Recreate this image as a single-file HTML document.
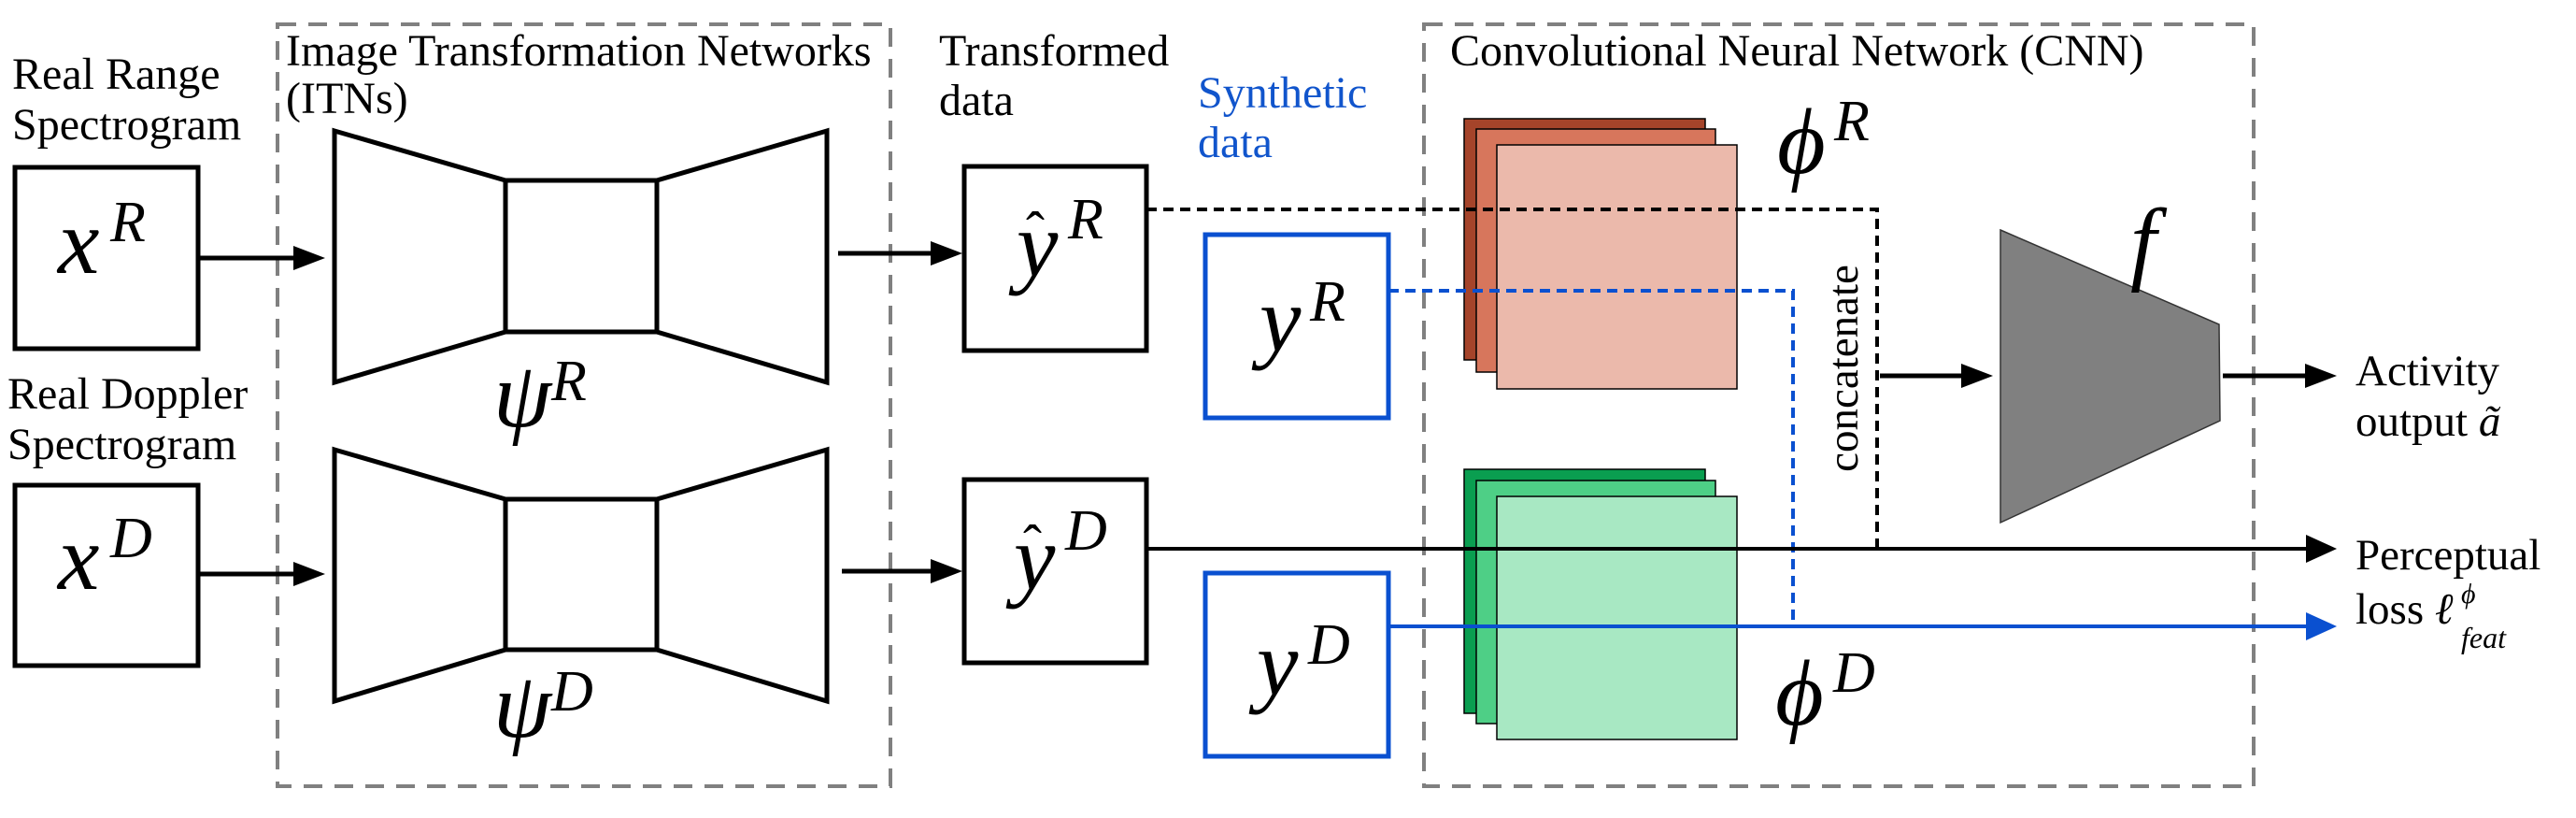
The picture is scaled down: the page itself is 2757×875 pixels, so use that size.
<!DOCTYPE html>
<html><head><meta charset="utf-8"><style>
html,body{margin:0;padding:0;background:#fff;}
svg{display:block;}
text{font-family:"Liberation Serif",serif;}
.m{font-style:italic;}
</style></head><body>
<svg width="2757" height="875" viewBox="0 0 2757 875" xmlns="http://www.w3.org/2000/svg">
<!-- dashed group boxes -->
<rect x="297" y="26" width="656" height="815" fill="none" stroke="#808080" stroke-width="4" stroke-dasharray="20,13"/>
<rect x="1524" y="26" width="888" height="815" fill="none" stroke="#808080" stroke-width="4" stroke-dasharray="20,13"/>

<!-- labels -->
<text x="13" y="95" font-size="48">Real Range</text>
<text x="13" y="149" font-size="48">Spectrogram</text>
<text x="8" y="437" font-size="48">Real Doppler</text>
<text x="8" y="491" font-size="48">Spectrogram</text>
<text x="306" y="70" font-size="48">Image Transformation Networks</text>
<text x="306" y="121" font-size="48">(ITNs)</text>
<text x="1005" y="70" font-size="48">Transformed</text>
<text x="1005" y="123" font-size="48">data</text>
<text x="1282" y="115" font-size="48" fill="#1155cc">Synthetic</text>
<text x="1282" y="168" font-size="48" fill="#1155cc">data</text>
<text x="1552" y="70" font-size="48">Convolutional Neural Network (CNN)</text>

<!-- input boxes -->
<rect x="16" y="179" width="196" height="194" fill="none" stroke="#000" stroke-width="5"/>
<rect x="16" y="519" width="196" height="193" fill="none" stroke="#000" stroke-width="5"/>
<text x="62" y="292" font-size="100" class="m">x</text><text x="118" y="258" font-size="62" class="m">R</text>
<text x="62" y="630" font-size="100" class="m">x</text><text x="118" y="596" font-size="62" class="m">D</text>

<!-- arrows into ITNs -->
<line x1="212" y1="276" x2="320" y2="276" stroke="#000" stroke-width="5"/>
<path d="M314,263 L348,276 L314,289z" fill="#000"/>
<line x1="212" y1="614" x2="320" y2="614" stroke="#000" stroke-width="5"/>
<path d="M314,601 L348,614 L314,627z" fill="#000"/>

<!-- bowties -->
<g fill="none" stroke="#000" stroke-width="5" stroke-linejoin="miter">
<polygon points="358,140 541,193 541,355 358,409"/>
<rect x="541" y="193" width="162" height="162"/>
<polygon points="885,140 703,193 703,355 885,409"/>
<polygon points="358,481 541,534 541,695 358,750"/>
<rect x="541" y="534" width="162" height="161"/>
<polygon points="885,481 703,534 703,695 885,750"/>
</g>
<text x="528" y="456" font-size="100" class="m">ψ</text><text x="590" y="428" font-size="62" class="m">R</text>
<text x="528" y="788" font-size="100" class="m">ψ</text><text x="590" y="760" font-size="62" class="m">D</text>

<!-- arrows out of ITNs -->
<line x1="897" y1="271" x2="1000" y2="271" stroke="#000" stroke-width="5"/>
<path d="M996,258 L1030,271 L996,284z" fill="#000"/>
<line x1="901" y1="611" x2="1000" y2="611" stroke="#000" stroke-width="5"/>
<path d="M996,598 L1030,611 L996,624z" fill="#000"/>

<!-- transformed boxes -->
<rect x="1032" y="178" width="195" height="197" fill="none" stroke="#000" stroke-width="5"/>
<rect x="1032" y="513" width="195" height="196" fill="none" stroke="#000" stroke-width="5"/>
<text x="1088" y="295" font-size="100" class="m">y</text><text x="1098" y="268" font-size="60">ˆ</text><text x="1143" y="255" font-size="62" class="m">R</text>
<text x="1085" y="630" font-size="100" class="m">y</text><text x="1095" y="603" font-size="60">ˆ</text><text x="1140" y="588" font-size="62" class="m">D</text>

<!-- synthetic boxes -->
<rect x="1290" y="251" width="196" height="196" fill="none" stroke="#0a50d0" stroke-width="5"/>
<rect x="1290" y="613" width="196" height="196" fill="none" stroke="#0a50d0" stroke-width="5"/>
<text x="1348" y="375" font-size="100" class="m">y</text><text x="1402" y="343" font-size="62" class="m">R</text>
<text x="1345" y="743" font-size="100" class="m">y</text><text x="1400" y="710" font-size="62" class="m">D</text>

<!-- feature stacks -->
<rect x="1567" y="127" width="258" height="258" fill="#a5442a" stroke="#000" stroke-width="1.5"/>
<rect x="1580" y="138" width="256" height="260" fill="#d7765c" stroke="#000" stroke-width="1.5"/>
<rect x="1602" y="155" width="257" height="261" fill="#ebb9ab" stroke="#000" stroke-width="1.5"/>
<rect x="1567" y="502" width="258" height="261" fill="#0a9e50" stroke="#000" stroke-width="1.5"/>
<rect x="1580" y="514" width="256" height="260" fill="#4ecf86" stroke="#000" stroke-width="1.5"/>
<rect x="1602" y="531" width="257" height="260" fill="#a8e8c3" stroke="#000" stroke-width="1.5"/>
<text x="1902" y="185" font-size="100" class="m">ϕ</text><text x="1963" y="150" font-size="62" class="m">R</text>
<text x="1900" y="775" font-size="100" class="m">ϕ</text><text x="1962" y="740" font-size="62" class="m">D</text>

<!-- connectors -->
<polyline points="1227,224 2009,224 2009,587" fill="none" stroke="#000" stroke-width="4" stroke-dasharray="11,7"/>
<polyline points="1486,311 1919,311 1919,670" fill="none" stroke="#0a50d0" stroke-width="4" stroke-dasharray="11,7"/>
<line x1="1227" y1="587" x2="2475" y2="587" stroke="#000" stroke-width="4"/>
<path d="M2468,572 L2501,587 L2468,602z" fill="#000"/>
<line x1="1486" y1="670" x2="2475" y2="670" stroke="#0a50d0" stroke-width="4"/>
<path d="M2468,655 L2501,670 L2468,685z" fill="#0a50d0"/>
<text transform="translate(1988,394) rotate(-90)" font-size="47" text-anchor="middle">concatenate</text>
<line x1="2012" y1="402" x2="2105" y2="402" stroke="#000" stroke-width="5"/>
<path d="M2099,389 L2133,402 L2099,415z" fill="#000"/>

<!-- f trapezoid -->
<polygon points="2141,246 2375,347 2376,450 2141,559" fill="#808080" stroke="#333" stroke-width="1.5"/>
<text x="2280" y="292" font-size="100" class="m">f</text>
<line x1="2379" y1="402" x2="2475" y2="402" stroke="#000" stroke-width="5"/>
<path d="M2467,389 L2501,402 L2467,415z" fill="#000"/>

<text x="2521" y="412" font-size="47">Activity</text>
<text x="2521" y="466" font-size="47">output <tspan class="m">ã</tspan></text>
<text x="2521" y="609" font-size="47">Perceptual</text>
<text x="2521" y="667" font-size="47">loss <tspan class="m">ℓ</tspan></text>
<text x="2634" y="645" font-size="30" class="m">ϕ</text>
<text x="2634" y="693" font-size="32" class="m">feat</text>
</svg>
</body></html>
